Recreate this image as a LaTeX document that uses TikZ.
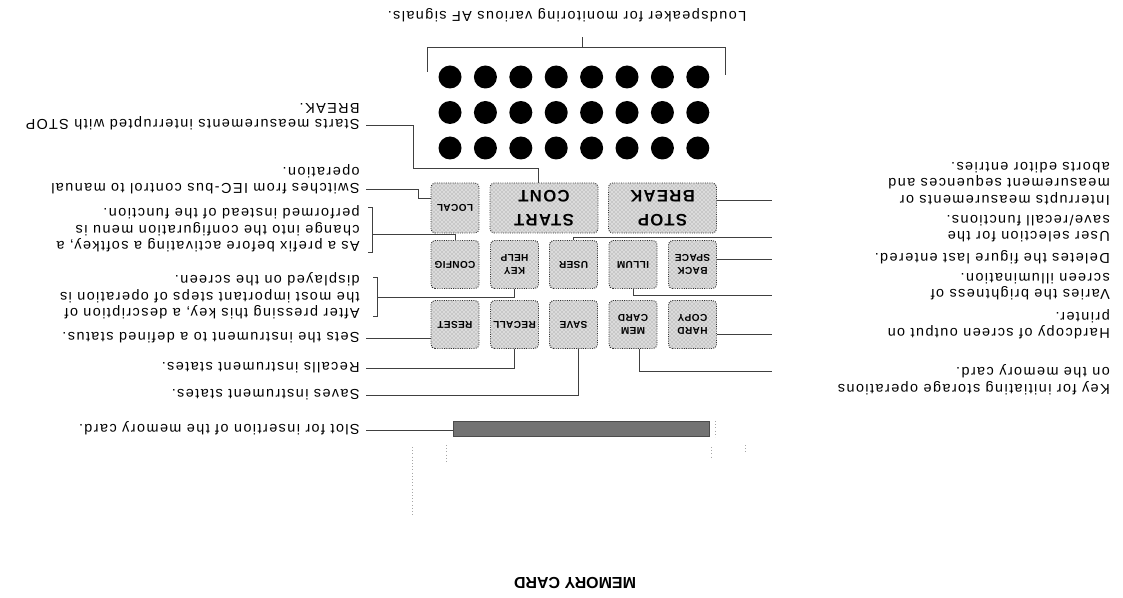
\documentclass[tikz,border=0pt]{standalone}
\usepackage{fontspec}
\usepackage{tikz}
\usetikzlibrary{patterns}
\newfontfamily\notefont[LetterSpace=10]{Liberation Sans}
\newfontfamily\keyfont[LetterSpace=4]{Liberation Sans}
\newfontfamily\bigkeyfont[LetterSpace=8]{Liberation Sans}
\newfontfamily\cardfont{Liberation Sans}

\begin{document}
\begin{tikzpicture}[
  x=0.75pt, y=-0.75pt,
  note/.style={rotate=180,anchor=north west,inner sep=0pt,align=left,
    font=\notefont\fontsize{10.8}{12.4}\selectfont,
    execute at begin node={\rule{0pt}{8pt}}},
  key/.style={rotate=180,draw=black!80,densely dotted,line width=0.7pt,rounded corners=3pt,
    preaction={fill=black!14},pattern=crosshatch dots,pattern color=black!45,
    minimum width=36pt,minimum height=36pt,inner sep=0pt,align=center,
    font=\keyfont\bfseries\fontsize{7.5}{9.5}\selectfont},
  bigkey/.style={key,minimum width=81pt,minimum height=37.5pt,
    font=\bigkeyfont\bfseries\fontsize{12.5}{18}\selectfont},
  lead/.style={black!75,line width=0.5pt},
  faint/.style={black!35,dotted,line width=0.4pt}
]
\useasboundingbox (0,0) rectangle (1123,598);

% loudspeaker grille
\foreach \r in {0,1,2}
  \foreach \c in {0,...,7}
    \fill (450+35.4*\c,77+35.5*\r) circle (11.5);
\draw[lead] (427,72) |- (725,47) -- (725,75);
\coordinate (e-speaker) at (582,37);
\draw[lead] (582,47) -- (e-speaker);
\node[note,anchor=center] (t-speaker) at (567,15) {Loudspeaker for monitoring various AF signals.};

% keys (turned upside down, so north is at the bottom)
\node[key] (reset) at (455,324.5) {RESET};
\node[key] (recall) at (514.5,324.5) {RECALL};
\node[key] (save) at (573.5,324.5) {SAVE};
\node[key] (mem) at (633,324.5) {MEM\\CARD};
\node[key] (hard) at (692.5,324.5) {HARD\\COPY};
\node[key] (config) at (455,264.5) {CONFIG};
\node[key] (khelp) at (514.5,264.5) {KEY\\HELP};
\node[key] (user) at (573.5,264.5) {USER};
\node[key] (illum) at (633,264.5) {ILLUM};
\node[key] (back) at (692.5,264.5) {BACK\\SPACE};
\node[key,minimum height=37.5pt] (local) at (455,208) {LOCAL};
\node[bigkey] (start) at (544,208) {START\\CONT};
\node[bigkey] (stop) at (662.5,208) {STOP\\BREAK};

% memory card slot
\node[draw=black!70,fill=black!55,minimum width=192pt,minimum height=11.25pt,inner sep=0pt] (slot) at (581,428.5) {};
\draw[faint] (412,447) -- (412,515);
\draw[faint] (446,445) -- (446,462);
\draw[faint] (715,421) -- (715,437);
\draw[faint] (711,447) -- (711,457);
\draw[faint] (745,445) -- (745,453);
\node[rotate=180,inner sep=0pt,font=\cardfont\bfseries\fontsize{12}{14}\selectfont] (t-card) at (575,583) {MEMORY CARD};

% left notes
\node[note] (t-starts) at (360,130.7) {Starts measurements interrupted with STOP\\BREAK.};
\node[note] (t-local) at (360,194.7) {Switches from IEC-bus control to manual\\operation.};
\node[note] (t-config) at (360,252.7) {As a prefix before activating a softkey, a\\change into the configuration menu is\\performed instead of the function.};
\node[note] (t-help) at (360,319.7) {After pressing this key, a description of\\the most important steps of operation is\\displayed on the screen.};
\node[note] (t-reset) at (360,343.7) {Sets the instrument to a defined status.};
\node[note] (t-recall) at (360,373.7) {Recalls instrument states.};
\node[note] (t-save) at (360,400.7) {Saves instrument states.};
\node[note] (t-slot) at (360,435.7) {Slot for insertion of the memory card.};

% right notes
\node[note] (t-stop) at (1110,205.7) {Interrupts measurements or\\measurement sequences and\\aborts editor entries.};
\node[note] (t-user) at (1110,242.7) {User selection for the\\save/recall functions.};
\node[note] (t-back) at (1110,264.7) {Deletes the figure last entered.};
\node[note] (t-illum) at (1110,300.7) {Varies the brightness of\\screen illumination.};
\node[note] (t-hard) at (1110,339.7) {Hardcopy of screen output on\\printer.};
\node[note] (t-mem) at (1110,394.7) {Key for initiating storage operations\\on the memory card.};

% leader ends
\coordinate (e-starts) at (366,125);
\coordinate (e-local) at (366,189);
\coordinate (e-reset) at (366,338);
\coordinate (e-recall) at (366,368);
\coordinate (e-save) at (366,395);
\coordinate (e-slot) at (366,430);
\coordinate (e-stop) at (772,200);
\coordinate (e-user) at (772,237);
\coordinate (e-back) at (772,259);
\coordinate (e-illum) at (772,295);
\coordinate (e-hard) at (772,334);
\coordinate (e-mem) at (772,371);

% leaders, left
\draw[lead] (e-starts) -| (413,168) -| ([xshift=-4.5pt]start.south);
\draw[lead] (e-local) -| (418,198) -- (local.east |- 418,198);
\draw[lead] (368,207) -- (372,207) -- (372,252) -- (368,252);
\draw[lead] (372,234) -| (config.south);
\draw[lead] (373,277) -- (377,277) -- (377,316) -- (373,316);
\draw[lead] (377,297) -| (khelp.north);
\draw[lead] (e-reset) -- (e-reset -| reset.east);
\draw[lead] (e-recall) -| (recall.north);
\draw[lead] (e-save) -| ([xshift=3.5pt]save.north);
\draw[lead] (e-slot) -- (e-slot -| slot.west);

% leaders, right
\draw[lead] (stop.west |- e-stop) -- (e-stop);
\draw[lead] (user.south) |- (e-user);
\draw[lead] (back.west |- e-back) -- (e-back);
\draw[lead] (illum.north) |- (e-illum);
\draw[lead] (hard.west |- e-hard) -- (e-hard);
\draw[lead] ([xshift=5pt]mem.north) |- (e-mem);
\end{tikzpicture}
\end{document}
